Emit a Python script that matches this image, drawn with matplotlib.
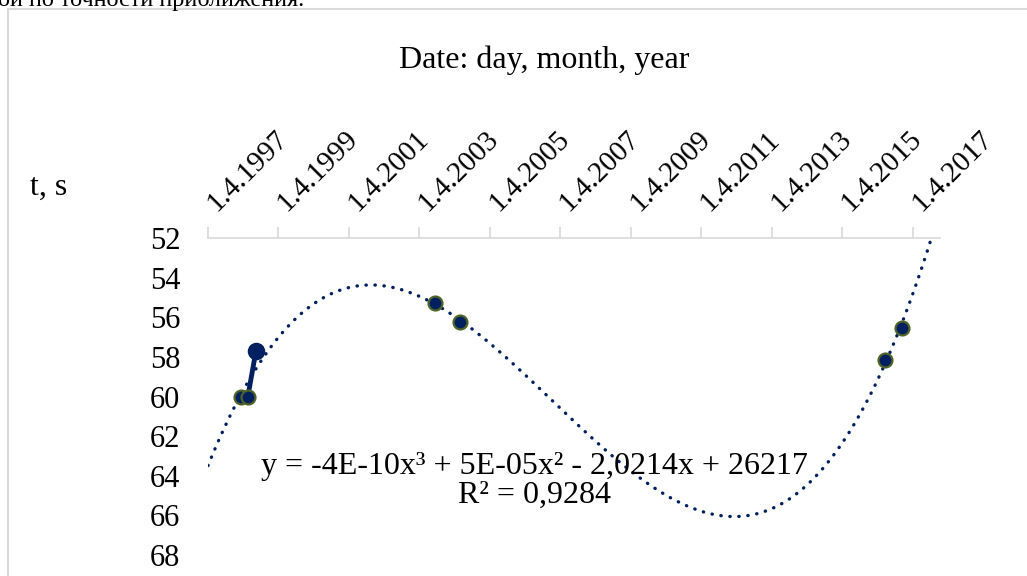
import datetime as dt
import numpy as np
import matplotlib
matplotlib.use('Agg')
import matplotlib.pyplot as plt
import matplotlib.dates as mdates
import matplotlib.transforms as mtransforms
from matplotlib.patches import Rectangle

# data
dates = [dt.date(1998, 3, 10), dt.date(1998, 5, 19), dt.date(1998, 8, 11),
         dt.date(2003, 9, 9), dt.date(2004, 5, 22),
         dt.date(2016, 6, 10), dt.date(2016, 12, 5)]
times = [60.0, 60.0, 57.7, 55.3, 56.25, 58.16, 56.55]
tick_years = [1997, 1999, 2001, 2003, 2005, 2007, 2009, 2011, 2013, 2015, 2017]
tick_labels = ['1.4.%d' % y for y in tick_years]
eq_text = 'y = -4E-10x³ + 5E-05x² - 2,0214x + 26217\nR² = 0,9284'

navy = '#002060'
green = '#4f6228'

plt.rcParams['font.family'] = ['Liberation Serif', 'DejaVu Serif']

fig = plt.figure(figsize=(10.27, 5.76), dpi=100)
ax = fig.add_axes([208 / 1027, 21 / 576, 732 / 1027, 317 / 576])

x = mdates.date2num(dates)
x0, x1 = mdates.date2num(dt.date(1997, 4, 1)), mdates.date2num(dt.date(2018, 1, 6))

# polynomial trendline (order 3), extended over the whole axis
xc = x.mean()
coef = np.polyfit(x - xc, times, 3)
xs = np.linspace(x0, x1, 400)
ax.plot(xs, np.polyval(coef, xs - xc), color=navy, lw=2.4,
        linestyle=(0, (0.1, 2.6)), dash_capstyle='round', zorder=2)

# first three points joined by a thick line, the rest are lone markers
ax.plot(x[:3], times[:3], color=navy, lw=3.5, zorder=3)
for i in range(len(x)):
    edge = navy if i == 2 else green
    size = 11 if i == 2 else 10
    ax.plot(x[i], times[i], 'o', ms=size, mfc=navy, mec=edge, mew=1.6, zorder=4)

ax.set_xlim(x0, x1)
ax.set_ylim(68, 52)
ax.set_yticks(np.arange(52, 69, 2))
ax.xaxis.tick_top()
ax.set_xticks(mdates.date2num([dt.date(y, 4, 1) for y in tick_years]))
ax.set_xticklabels(tick_labels, rotation=45, ha='left', va='baseline',
                   rotation_mode='anchor', fontsize=21)
ax.tick_params(axis='x', direction='out', length=8, color='#d9d9d9', width=1.2, pad=11)
shift = mtransforms.ScaledTranslation(8 / 100, 0, fig.dpi_scale_trans)
for lab in ax.get_xticklabels():
    lab.set_transform(lab.get_transform() + shift)
ax.tick_params(axis='y', length=0, pad=20, labelsize=22)
for s in ['left', 'right', 'bottom']:
    ax.spines[s].set_visible(False)
ax.spines['top'].set_color('#d9d9d9')
ax.spines['top'].set_linewidth(1.2)

ax.text(0.446, 0.235, eq_text, transform=ax.transAxes, ha='center', va='center',
        fontsize=23, linespacing=1.0, zorder=5)

fig.text(544 / 1027, 1 - 60 / 576, 'Date: day, month, year', ha='center', va='center', fontsize=23)
fig.text(30 / 1027, 1 - 187 / 576, 't, s', ha='left', va='center', fontsize=23)

# chart frame and clipped caption text above it
fig.patches.append(Rectangle((8 / 1027, -0.1), 1.2, 1 - 9 / 576 + 0.1, transform=fig.transFigure,
                             fill=False, ec='#d9d9d9', lw=1.5))
fig.text(-2 / 1027, 1 - 6 / 576, 'ой по точности приближения.', ha='left', va='baseline', fontsize=17.5)

fig.savefig('out.png', dpi=100)
